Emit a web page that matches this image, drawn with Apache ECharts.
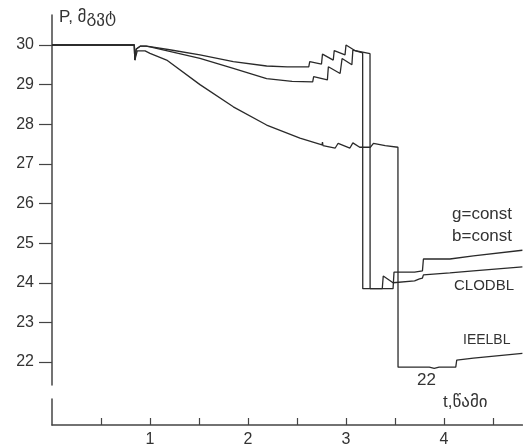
<!DOCTYPE html>
<html>
<head>
<meta charset="utf-8">
<script src="https://cdn.jsdelivr.net/npm/echarts@6/dist/echarts.min.js"></script>
<style>html,body{margin:0;padding:0;background:#fff}#c{width:523px;height:448px}</style>
</head>
<body>
<div id="c"></div>
<script>
// ---- data ----
const yTickValues = [22, 23, 24, 25, 26, 27, 28, 29, 30];
const xLabelValues = [1, 2, 3, 4];
const xTickValues = [0.5, 1, 1.5, 2, 2.5, 3, 3.5, 4, 4.5];

// curve A: upper on the left, ends as CLODBL
const tA = [0,0.84,0.845,0.86,0.9,0.96,1.0,1.2,1.51,1.85,2.19,2.4,2.62,2.63,2.75,2.76,2.87,2.88,2.99,3.0,3.09,3.17,3.171,3.37,3.38,3.48,3.7,3.75,3.78,3.79,4.06,4.3,4.8];
const pA = [30,30,29.62,29.9,29.97,29.97,29.96,29.88,29.75,29.58,29.47,29.45,29.45,29.58,29.52,29.77,29.62,29.86,29.75,30.0,29.86,29.8,23.85,23.85,24.17,24.0,24.05,24.1,24.12,24.2,24.25,24.3,24.4];

// curve B: middle on the left, ends as g=const / b=const
const tB = [0,0.84,0.845,0.86,0.9,0.96,1.0,1.2,1.51,1.85,2.19,2.45,2.66,2.67,2.81,2.82,2.94,2.96,3.06,3.07,3.245,3.246,3.48,3.49,3.7,3.78,3.79,4.06,4.3,4.8];
const pB = [30,30,29.62,29.9,29.97,29.97,29.95,29.84,29.66,29.41,29.15,29.08,29.07,29.2,29.12,29.45,29.28,29.66,29.5,29.87,29.78,23.85,23.85,24.27,24.27,24.3,24.6,24.6,24.68,24.82];

// curve C: lower on the left, ends as IEELBL
const tC = [0,0.84,0.845,0.87,0.95,1.0,1.17,1.51,1.85,2.19,2.53,2.755,2.76,2.765,2.89,2.92,3.04,3.07,3.14,3.25,3.28,3.4,3.53,3.531,3.85,3.9,3.95,4.12,4.13,4.3,4.8];
const pC = [30,30,29.62,29.85,29.85,29.79,29.62,29.0,28.44,27.98,27.65,27.48,27.55,27.46,27.4,27.52,27.4,27.53,27.42,27.42,27.52,27.46,27.42,21.87,21.87,21.84,21.87,21.87,22.05,22.1,22.22];

const zip = (t, p) => t.map((v, i) => [v, p[i]]);

const FONT = '"Liberation Sans", Arial, "DejaVu Sans", sans-serif';
const AX = '#444';
const LINE = '#2a2a2a';

const chart = echarts.init(document.getElementById('c'), null, {renderer: 'canvas'});

const lineSeries = (name, t, p) => ({
  name, type: 'line', xAxisIndex: 0, yAxisIndex: 0,
  data: zip(t, p), showSymbol: false, symbol: 'none', animation: false,
  lineStyle: {color: LINE, width: 1.3}, clip: false
});

const txt = (text, x, y, size) => ({
  type: 'text', x, y,
  style: {text, font: size + 'px ' + FONT, fill: '#333', verticalAlign: 'middle', align: 'left'}
});

chart.setOption({
  animation: false,
  backgroundColor: '#fff',
  grid: [
    {left: 52, top: 15, width: 470.4, height: 370},
    {left: 52, top: 399, width: 470.4, height: 30}
  ],
  xAxis: [
    {gridIndex: 0, type: 'value', min: 0, max: 4.8, show: false},
    {gridIndex: 1, type: 'value', min: 0, max: 4.8, position: 'bottom',
     axisLine: {show: true, onZero: false, lineStyle: {color: AX, width: 1.5}},
     axisTick: {show: true, inside: true, length: 7, customValues: xTickValues, lineStyle: {color: AX, width: 1.2}},
     axisLabel: {show: true, customValues: xLabelValues, margin: 7, color: '#333', fontSize: 16, fontFamily: FONT},
     splitLine: {show: false}}
  ],
  yAxis: [
    {gridIndex: 0, type: 'value', min: 21.42, max: 30.757,
     axisLine: {show: true, lineStyle: {color: AX, width: 1.5}},
     axisTick: {show: true, length: 13, customValues: yTickValues, lineStyle: {color: AX, width: 1.2}},
     axisLabel: {show: true, customValues: yTickValues, margin: 18, color: '#333', fontSize: 16, fontFamily: FONT},
     splitLine: {show: false}},
    {gridIndex: 1, type: 'value', min: 0, max: 1,
     axisLine: {show: true, lineStyle: {color: AX, width: 1.5}},
     axisTick: {show: false}, axisLabel: {show: false}, splitLine: {show: false}}
  ],
  series: [
    lineSeries('CLODBL', tA, pA),
    lineSeries('g=const', tB, pB),
    lineSeries('IEELBL', tC, pC)
  ],
  graphic: [
    txt('P, მგვტ', 59, 17, 17),
    txt('g=const', 452, 214, 17),
    txt('b=const', 452, 236, 17),
    txt('CLODBL', 454, 286, 15),
    txt('IEELBL', 463, 340, 14),
    txt('22', 417, 380, 17),
    txt('t,წამი', 443, 402, 17)
  ]
});
</script>
</body>
</html>
